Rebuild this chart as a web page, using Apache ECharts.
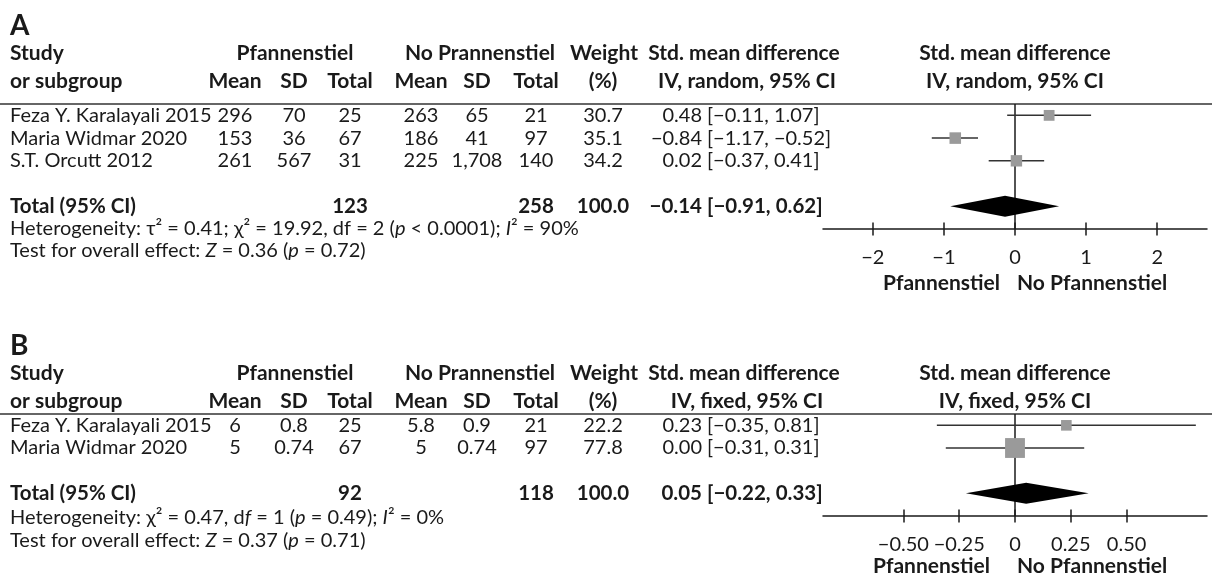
<!DOCTYPE html>
<html><head><meta charset="utf-8">
<script src="https://cdn.jsdelivr.net/npm/echarts@6/dist/echarts.min.js"></script>
<style>html,body{margin:0;padding:0;background:#fff}#c{width:1212px;height:577px}</style>
</head><body><div id="c"></div>
<script>
// ---------------- Panel A data ----------------
const studiesA = ['Feza Y. Karalayali 2015', 'Maria Widmar 2020', 'S.T. Orcutt 2012'];
const pfMeanA = [296, 153, 261];
const pfSDA = [70, 36, 567];
const pfTotalA = [25, 67, 31];
const noMeanA = [263, 186, 225];
const noSDA = [65, 41, 1708];
const noTotalA = [21, 97, 140];
const weightA = [30.7, 35.1, 34.2];
const smdA = [0.48, -0.84, 0.02];
const loA = [-0.11, -1.17, -0.37];
const hiA = [1.07, -0.52, 0.41];
const totalsA = [123, 258, 100.0];       // Pfannenstiel total, No total, weight
const pooledA = [-0.14, -0.91, 0.62];    // estimate, lower, upper
const ticksA = [-2, -1, 0, 1, 2];
const tickLabelsA = ['−2', '−1', '0', '1', '2'];
const footA = ['Heterogeneity: τ² = 0.41; χ² = 19.92, df = 2 ({i|p} < 0.0001); {i|I}² = 90%',
               'Test for overall effect: {i|Z} = 0.36 ({i|p} = 0.72)'];

// ---------------- Panel B data ----------------
const studiesB = ['Feza Y. Karalayali 2015', 'Maria Widmar 2020'];
const pfMeanB = [6, 5];
const pfSDB = [0.8, 0.74];
const pfTotalB = [25, 67];
const noMeanB = [5.8, 5];
const noSDB = [0.9, 0.74];
const noTotalB = [21, 97];
const weightB = [22.2, 77.8];
const smdB = [0.23, 0.00];
const loB = [-0.35, -0.31];
const hiB = [0.81, 0.31];
const totalsB = [92, 118, 100.0];
const pooledB = [0.05, -0.22, 0.33];
const ticksB = [-0.5, -0.25, 0, 0.25, 0.5];
const tickLabelsB = ['−0.50', '−0.25', '0', '0.25', '0.50'];
const footB = ['Heterogeneity: χ² = 0.47, d{i|f} = 1 ({i|p} = 0.49); {i|I}² = 0%',
               'Test for overall effect: {i|Z} = 0.37 ({i|p} = 0.71)'];

// ---------------- layout / style ----------------
const FONT = 'Lato, "Noto Sans", sans-serif';
const FS = 20;
const FSB = 20.5;
const INK = '#1a1a1a';
const colX = [10, 235, 294, 350, 421, 477, 536, 603, 702, 707];
const colAlign = ['left', 'center', 'center', 'center', 'center', 'center', 'center', 'center', 'right', 'left'];

function fmtNum(v) { return v.toLocaleString('en-US'); }
function fmtSmd(v) { return (v < 0 ? '−' : '') + Math.abs(v).toFixed(2); }
function fmtCI(lo, hi) { return '[' + fmtSmd(lo) + ', ' + fmtSmd(hi) + ']'; }

function buildTable(st, pm, ps, pt, nm, ns, nt, w, smd, lo, hi, totals, pooled) {
  const rows = st.map((s, i) => ({ row: i, bold: false, cells: [s, fmtNum(pm[i]), fmtNum(ps[i]), fmtNum(pt[i]),
    fmtNum(nm[i]), fmtNum(ns[i]), fmtNum(nt[i]), w[i].toFixed(1), fmtSmd(smd[i]), fmtCI(lo[i], hi[i])] }));
  rows.push({ row: st.length + 1, bold: true, cells: ['Total (95% CI)', '', '', String(totals[0]), '', '', String(totals[1]),
    totals[2].toFixed(1), fmtSmd(pooled[0]), fmtCI(pooled[1], pooled[2])] });
  return rows;
}
const tableA = buildTable(studiesA, pfMeanA, pfSDA, pfTotalA, noMeanA, noSDA, noTotalA, weightA, smdA, loA, hiA, totalsA, pooledA);
const tableB = buildTable(studiesB, pfMeanB, pfSDB, pfTotalB, noMeanB, noSDB, noTotalB, weightB, smdB, loB, hiB, totalsB, pooledB);

function tableSeries(gi, table) {
  return {
    type: 'custom', xAxisIndex: gi * 2, yAxisIndex: gi, clip: false, silent: true, z: 5,
    data: table.map(r => [0, r.row]),
    encode: { x: 0, y: 1 },
    renderItem: (params, api) => {
      const r = table[params.dataIndex];
      const y = api.coord([0, api.value(1)])[1];
      return { type: 'group', children: r.cells.map((t, k) => ({
        type: 'text', x: colX[k], y: y,
        style: { text: t, align: colAlign[k], verticalAlign: 'middle', fontFamily: FONT,
                 fontSize: r.bold ? FSB : FS, fontWeight: r.bold ? 'bold' : 'normal', fill: INK }
      })) };
    }
  };
}

function forestSeries(gi, smd, lo, hi, w, k) {
  return {
    type: 'custom', xAxisIndex: gi * 2, yAxisIndex: gi, clip: false, silent: true, z: 4,
    data: smd.map((v, i) => [v, i, lo[i], hi[i], w[i]]),
    encode: { x: 0, y: 1 },
    renderItem: (params, api) => {
      const p = api.coord([api.value(0), api.value(1)]);
      const xl = api.coord([api.value(2), api.value(1)])[0];
      const xh = api.coord([api.value(3), api.value(1)])[0];
      const s = k * Math.sqrt(api.value(4));
      return { type: 'group', children: [
        { type: 'line', shape: { x1: xl, y1: p[1], x2: xh, y2: p[1] }, style: { stroke: '#333', lineWidth: 1.5 } },
        { type: 'rect', shape: { x: p[0] - s / 2, y: p[1] - s / 2, width: s, height: s }, style: { fill: '#9a9a9a' } }
      ] };
    }
  };
}

function diamondSeries(gi, pooled, row) {
  return {
    type: 'custom', xAxisIndex: gi * 2, yAxisIndex: gi, clip: false, silent: true, z: 4,
    data: [[pooled[0], row, pooled[1], pooled[2]]],
    encode: { x: 0, y: 1 },
    renderItem: (params, api) => {
      const c = api.coord([api.value(0), api.value(1)]);
      const xl = api.coord([api.value(2), api.value(1)])[0];
      const xh = api.coord([api.value(3), api.value(1)])[0];
      const h = 10.5;
      return { type: 'polygon', shape: { points: [[xl, c[1]], [c[0], c[1] - h], [xh, c[1]], [c[0], c[1] + h]] },
               style: { fill: '#000' } };
    }
  };
}

function zeroLine(gi, ymax) {
  return { type: 'line', xAxisIndex: gi * 2, yAxisIndex: gi, data: [[0, -0.5], [0, ymax]], symbol: 'none', silent: true,
           lineStyle: { color: INK, width: 1.5 }, z: 2 };
}

function xAxes(gi, min, max, ticks, labels) {
  const tickStyle = { color: INK, width: 1.5 };
  return [
    { gridIndex: gi, type: 'value', min, max, position: 'bottom', splitLine: { show: false },
      axisLine: { show: true, onZero: false, lineStyle: { color: INK, width: 1.5 } },
      axisTick: { show: true, customValues: ticks, length: 6.5, lineStyle: tickStyle },
      axisLabel: { show: true, customValues: ticks, margin: 19, fontFamily: FONT, fontSize: FS, color: INK,
                   formatter: v => { const i = ticks.findIndex(t => Math.abs(t - v) < 1e-9); return i >= 0 ? labels[i] : ''; } } },
    { gridIndex: gi, type: 'value', min, max, position: 'bottom', splitLine: { show: false },
      axisLine: { show: false, onZero: false },
      axisTick: { show: true, inside: true, customValues: ticks, length: 6.5, lineStyle: tickStyle },
      axisLabel: { show: false } }
  ];
}

function T(text, x, y, align, extra) {
  return { type: 'text', x, y, silent: true,
    style: Object.assign({ text, align, verticalAlign: 'middle', fontFamily: FONT, fontSize: FS, fill: INK }, extra || {}) };
}
const richI = { i: { fontStyle: 'italic', fontFamily: FONT, fontSize: FS, fill: INK } };
const B_ = { fontWeight: 'bold', fontSize: 21 };

function headers(letter, yL, y1, y2, yRule, ciLabel, yF1, yF2, foot, yPf, pfRight) {
  return [
    T(letter, 10, yL, 'left', { fontSize: 28, fontWeight: 'bold' }),
    T('Study', 10, y1, 'left', B_), T('or subgroup', 10, y2, 'left', B_),
    T('Pfannenstiel', 295, y1, 'center', B_),
    T('Mean', colX[1], y2, 'center', B_), T('SD', colX[2], y2, 'center', B_), T('Total', colX[3], y2, 'center', B_),
    T('No Prannenstiel', 480, y1, 'center', B_),
    T('Mean', colX[4], y2, 'center', B_), T('SD', colX[5], y2, 'center', B_), T('Total', colX[6], y2, 'center', B_),
    T('Weight', 604, y1, 'center', B_), T('(%)', 603, y2, 'center', B_),
    T('Std. mean difference', 744, y1, 'center', B_), T(ciLabel, 747, y2, 'center', B_),
    T('Std. mean difference', 1015, y1, 'center', B_), T(ciLabel, 1015, y2, 'center', B_),
    { type: 'line', silent: true, shape: { x1: 0, y1: yRule, x2: 1212, y2: yRule }, style: { stroke: '#333', lineWidth: 1.6 } },
    T(foot[0], 10, yF1, 'left', { rich: richI }),
    T(foot[1], 10, yF2, 'left', { rich: richI }),
    T('Pfannenstiel', pfRight, yPf, 'right', B_),
    T('No Pfannenstiel', 1017, yPf, 'left', B_)
  ];
}

const chart = echarts.init(document.getElementById('c'), null, { renderer: 'canvas' });
chart.setOption({
  animation: false,
  backgroundColor: '#fff',
  grid: [
    { left: 823, right: 5, top: 104, height: 125 },
    { left: 823, right: 5, top: 414, height: 102 }
  ],
  xAxis: [].concat(xAxes(0, -2.7, 2.7, ticksA, tickLabelsA), xAxes(1, -0.86, 0.86, ticksB, tickLabelsB)),
  yAxis: [
    { gridIndex: 0, type: 'value', inverse: true, min: -0.5, max: 5, show: false },
    { gridIndex: 1, type: 'value', inverse: true, min: -0.5, max: 4, show: false }
  ],
  series: [
    zeroLine(0, 5),
    forestSeries(0, smdA, loA, hiA, weightA, 1.95),
    diamondSeries(0, pooledA, studiesA.length + 1),
    tableSeries(0, tableA),
    zeroLine(1, 4),
    forestSeries(1, smdB, loB, hiB, weightB, 2.25),
    diamondSeries(1, pooledB, studiesB.length + 1),
    tableSeries(1, tableB)
  ],
  graphic: [].concat(
    headers('A', 26, 53, 81, 104, 'IV, random, 95% CI', 229, 251, footA, 283, 1000),
    headers('B', 346, 373, 401, 414, 'IV, fixed, 95% CI', 518, 541, footB, 566, 990)
  )
});
</script>
</body></html>
